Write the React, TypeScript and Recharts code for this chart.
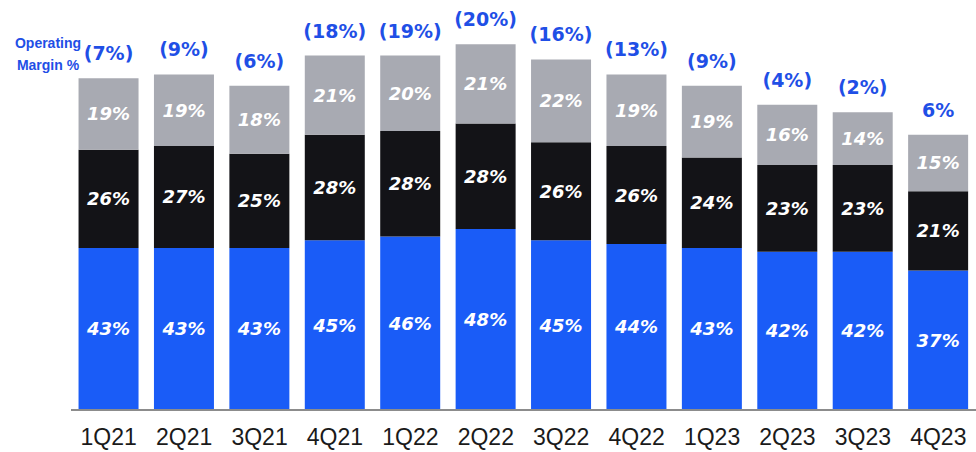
import React from 'react';
import { BarChart, Bar, XAxis, YAxis, LabelList } from 'recharts';

const quarters = ['1Q21', '2Q21', '3Q21', '4Q21', '1Q22', '2Q22', '3Q22', '4Q22', '1Q23', '2Q23', '3Q23', '4Q23'];
const blueShare = [43, 43, 43, 45, 46, 48, 45, 44, 43, 42, 42, 37];
const blackShare = [26, 27, 25, 28, 28, 28, 26, 26, 24, 23, 23, 21];
const grayShare = [19, 19, 18, 21, 20, 21, 22, 19, 19, 16, 14, 15];
const operatingMargin = ['(7%)', '(9%)', '(6%)', '(18%)', '(19%)', '(20%)', '(16%)', '(13%)', '(9%)', '(4%)', '(2%)', '6%'];

const BLUE = '#1a5cf7';
const BLACK = '#131317';
const GRAY = '#a8aab2';
const LABEL_BLUE = '#1f4fe6';

const data = quarters.map((q, i) => ({
  quarter: q,
  blue: blueShare[i],
  black: blackShare[i],
  gray: grayShare[i],
  margin: operatingMargin[i],
}));

const pct = (v: any) => `${v}%`;

// wide bold italic to mimic the deck font
const innerLabelStyle = {
  fill: '#ffffff',
  fontSize: 18,
  fontWeight: 700,
  fontStyle: 'italic',
  fontFamily: '"DejaVu Sans", sans-serif',
};

const App: React.FC = () => {
  return (
    <div style={{ position: 'absolute', left: 0, top: 0, width: 976, height: 452, background: '#fff' }}>
      <div
        style={{
          position: 'absolute',
          left: 10,
          top: 32,
          width: 76,
          textAlign: 'center',
          color: LABEL_BLUE,
          fontFamily: '"Liberation Sans", Arial, sans-serif',
          fontWeight: 700,
          fontSize: 14,
          lineHeight: '22px',
          zIndex: 2,
        }}
      >
        Operating
        <br />
        Margin %
      </div>
      <BarChart
        width={976}
        height={452}
        data={data}
        margin={{ top: 33, right: 0, left: 71, bottom: 0 }}
        barCategoryGap="10%"
      >
        <XAxis
          dataKey="quarter"
          height={42}
          interval={0}
          tickLine={false}
          axisLine={{ stroke: '#8c8c8c', strokeWidth: 2 }}
          tick={{ fill: '#1a1a1a', fontSize: 23, fontFamily: '"Liberation Sans", Arial, sans-serif' }}
          tickMargin={13}
        />
        <YAxis hide domain={[0, 100]} />
        <Bar dataKey="blue" stackId="s" fill={BLUE} isAnimationActive={false}>
          <LabelList dataKey="blue" position="center" formatter={pct} style={innerLabelStyle} />
        </Bar>
        <Bar dataKey="black" stackId="s" fill={BLACK} isAnimationActive={false}>
          <LabelList dataKey="black" position="center" formatter={pct} style={innerLabelStyle} />
        </Bar>
        <Bar dataKey="gray" stackId="s" fill={GRAY} isAnimationActive={false}>
          <LabelList dataKey="gray" position="center" formatter={pct} style={innerLabelStyle} />
          <LabelList
            dataKey="margin"
            position="top"
            offset={18}
            style={{ fill: LABEL_BLUE, fontSize: 19, fontWeight: 700, fontFamily: '"DejaVu Sans", sans-serif' }}
          />
        </Bar>
      </BarChart>
    </div>
  );
};

export default App;
